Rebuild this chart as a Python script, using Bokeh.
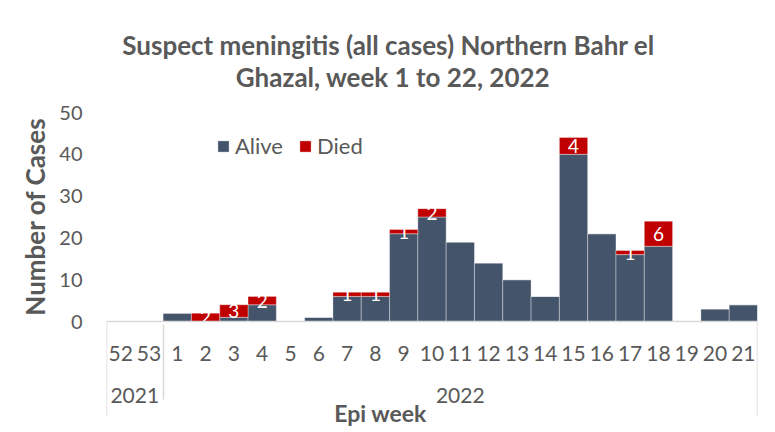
from bokeh.plotting import figure
from bokeh.models import FactorRange, Label, Legend, LegendItem, ColumnDataSource, FixedTicker
from bokeh.embed import file_html
from bokeh.resources import INLINE
from bokeh.core.properties import value

years = ["2021"] * 2 + ["2022"] * 21
weeks = ["52", "53"] + [str(i) for i in range(1, 22)]
alive = [0, 0, 2, 0, 1, 4, 0, 1, 6, 6, 21, 25, 19, 14, 10, 6, 40, 21, 16, 18, 0, 3, 4]
died = [0, 0, 0, 2, 3, 2, 0, 0, 1, 1, 1, 2, 0, 0, 0, 0, 4, 0, 1, 6, 0, 0, 0]
y_ticks = [0, 10, 20, 30, 40, 50]

title_lines = ["Suspect meningitis (all cases) Northern Bahr el", "Ghazal, week 1 to 22, 2022"]
x_title = "Epi week"
y_title = "Number of Cases"

FONT = "Lato"
GRAY = "#595959"
BLUE = "#44546A"
RED = "#C00000"
LIGHT = "#d9d9d9"

W, H = 775, 432
F_LEFT, F_RIGHT = 106, 757          # frame edges (px)
Y0_PX, Y50_PX = 321, 112            # pixel rows of y=0 and y=50
ppu = (Y0_PX - Y50_PX) / 50.0
y_start = -(H - Y0_PX) / ppu
y_end = 50 + Y50_PX / ppu

x = list(zip(years, weeks))
src = ColumnDataSource(dict(x=x, alive=alive, died=died))

p = figure(x_range=FactorRange(*x, group_padding=0, factor_padding=0, range_padding=0),
           y_range=(y_start, y_end), width=W, height=H, output_backend="svg",
           toolbar_location=None, title=None,
           min_border_left=F_LEFT, min_border_right=W - F_RIGHT, min_border_top=0,
           min_border_bottom=0)
p.background_fill_color = "white"
p.border_fill_color = "white"

rs = p.vbar_stack(["alive", "died"], x="x", width=1, color=[BLUE, RED], source=src,
                  line_color="white", line_width=0.6, line_alpha=0.6)

# category frame lines at the outer edges of the axis area
n = len(weeks)
p.segment(x0=[0, n], x1=[0, n], y0=[0, 0], y1=[-(415 - Y0_PX) / ppu] * 2,
          line_color=LIGHT, line_width=1.5)

# data labels for deaths
lx, ly, lt = [], [], []
for xi, a, d in zip(x, alive, died):
    if d > 0:
        lx.append(xi)
        ly.append(a + d / 2)
        lt.append(str(d))
p.text(x=lx, y=ly, text=lt, text_align="center", text_baseline="middle",
       text_color="white", text_font=value(FONT), text_font_size="19px")

legend = Legend(items=[LegendItem(label="Alive", renderers=[rs[0]]),
                       LegendItem(label="Died", renderers=[rs[1]])],
                orientation="horizontal", location=(110, 273),
                glyph_width=14, glyph_height=14, label_standoff=5, spacing=15,
                label_text_font=FONT, label_text_font_size="22px", label_text_color=GRAY,
                border_line_color=None, background_fill_alpha=0, padding=0, margin=0)
p.add_layout(legend)

p.xgrid.visible = False
p.ygrid.visible = False
p.outline_line_color = None

ya = p.yaxis[0]
ya.ticker = FixedTicker(ticks=y_ticks)
ya.axis_line_color = None
ya.major_tick_line_color = None
ya.minor_tick_line_color = None
ya.major_tick_out = 0
ya.major_tick_in = 0
ya.major_label_standoff = 24
ya.major_label_text_font = FONT
ya.major_label_text_font_size = "20px"
ya.major_label_text_color = GRAY
ya.axis_label = y_title
ya.axis_label_text_font = FONT
ya.axis_label_text_font_style = "bold"
ya.axis_label_text_font_size = "26px"
ya.axis_label_text_color = GRAY
ya.axis_label_standoff = 5

xa = p.xaxis[0]
xa.fixed_location = 0
xa.axis_line_color = LIGHT
xa.axis_line_width = 1.5
xa.major_tick_line_color = None
xa.minor_tick_line_color = None
xa.major_tick_out = 0
xa.major_tick_in = 0
xa.major_label_standoff = 24
xa.major_label_text_font = FONT
xa.major_label_text_font_size = "21px"
xa.major_label_text_color = GRAY
xa.group_text_font = FONT
xa.group_text_font_size = "21px"
xa.group_text_font_style = "normal"
xa.group_text_color = GRAY
xa.separator_line_color = LIGHT
xa.separator_line_width = 1.5

SHIFT = 8  # empirical baseline correction for labels


def add_text(cx, baseline, text, size, bold=True):
    p.add_layout(Label(x=cx - F_LEFT, y=H - baseline + SHIFT, x_units="screen", y_units="screen",
                       text=text, text_align="center", text_baseline="alphabetic",
                       text_font=FONT, text_font_style="bold" if bold else "normal",
                       text_font_size=size, text_color=GRAY))


add_text(388, 52, title_lines[0], "26px")
add_text(392.5, 84, title_lines[1], "26px")
add_text(380, 420, x_title, "23px")

open("out.html", "w").write(file_html(p, INLINE))
